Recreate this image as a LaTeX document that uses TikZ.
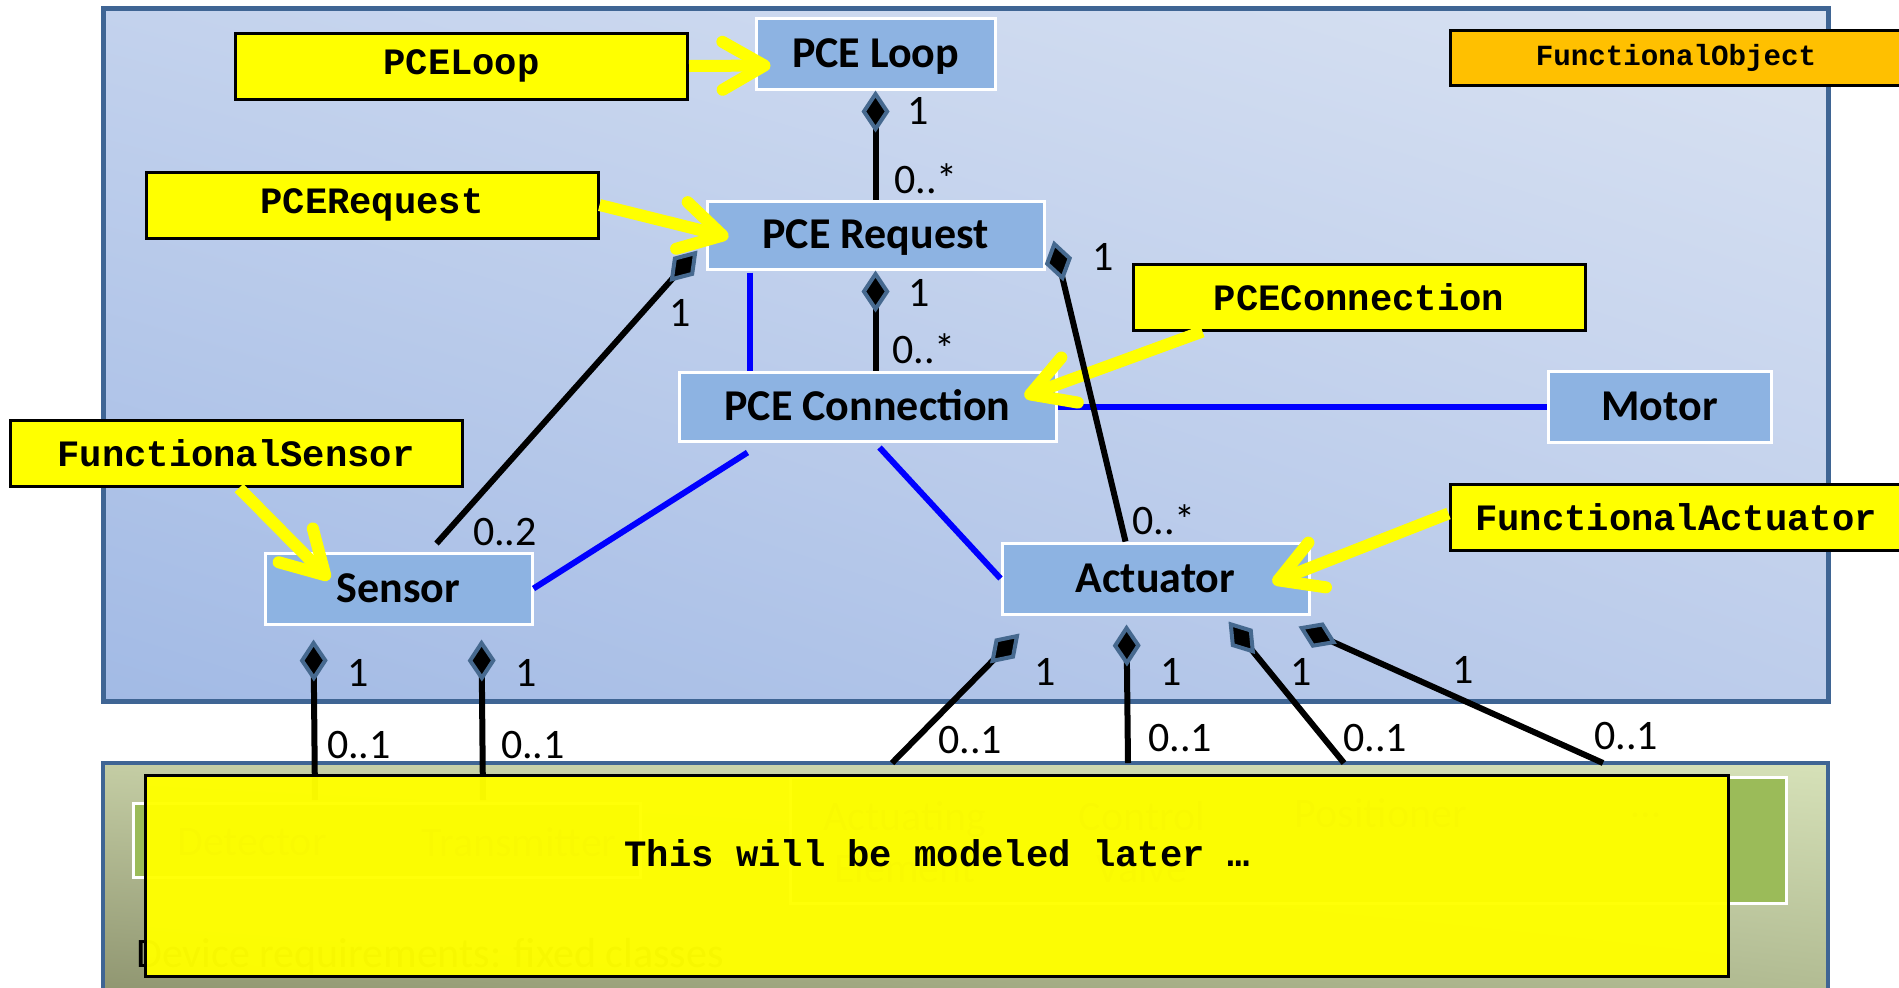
\documentclass[tikz,border=0pt]{standalone}
\usepackage{fontspec}
\setmainfont{Carlito}
\newfontfamily\monofont{Liberation Mono}
\usetikzlibrary{arrows.meta,calc,shadings}

\definecolor{panelborder}{HTML}{3F6594}
\definecolor{panelUL}{HTML}{C3D2ED}
\definecolor{panelUR}{HTML}{D9E2F2}
\definecolor{panelLL}{HTML}{A2BAE5}
\definecolor{panelLR}{HTML}{BDCDEB}
\definecolor{devUL}{HTML}{C4CDA4}
\definecolor{devUR}{HTML}{D6E1B8}
\definecolor{devLL}{HTML}{8E946F}
\definecolor{devLR}{HTML}{B0BA91}
\definecolor{clsblue}{HTML}{8DB3E2}
\definecolor{noteyellow}{HTML}{FFFF00}
\definecolor{noteorange}{HTML}{FFC000}
\definecolor{dmdblue}{HTML}{46698F}
\definecolor{linkblue}{HTML}{0000FF}
\definecolor{devgreen}{HTML}{9BBB59}

\tikzset{
  cls/.style={draw=white, line width=1.5pt, fill=clsblue, inner sep=0pt,
    text height=13.5pt, text depth=0pt,
    font=\bfseries\fontsize{22}{26}\selectfont},
  note/.style={draw=black, line width=1.5pt, fill=noteyellow, inner sep=0pt,
    minimum width=226pt, minimum height=33pt,
    font=\monofont\bfseries\fontsize{18.6}{22}\selectfont},
  mult/.style={inner sep=0pt, font=\fontsize{21}{24}\selectfont},
  devbox/.style={draw=white, line width=1.5pt, fill=devgreen},
  devtext/.style={inner sep=0pt, align=center, text=black!70,
    font=\fontsize{21}{26}\selectfont},
  comp/.style={line width=3pt, draw=black,
    -{Diamond[length=21pt,width=14pt,fill=black,color=dmdblue,line width=2pt]}},
  assoc/.style={line width=3pt, draw=linkblue},
  pointer/.style={line width=6pt, draw=noteyellow,
    -{Straight Barb[length=21pt,width=24pt,round]}},
}

\begin{document}
\begin{tikzpicture}[x=0.5pt,y=-0.5pt]
\useasboundingbox (0,0) rectangle (1899,987);
\fill[white] (0,0) rectangle (1899,987);

% ---------- functional package ----------
\shade[upper left=panelUL, upper right=panelUR, lower left=panelLL, lower right=panelLR]
  (103,8) rectangle (1828,701);
\draw[panelborder, line width=2.5pt] (103,8) rectangle (1828,701);

% ---------- device package ----------
\shade[upper left=devUL, upper right=devUR, lower left=devLL, lower right=devLR]
  (103,763) rectangle (1828,1000);
\draw[panelborder, line width=2pt] (103,1000) -- (103,763) -- (1828,763) -- (1828,1000);

\draw[devbox] (133,803) rectangle (640,877);
\draw[devbox] (790,777) rectangle (1786,903);
\node[devtext] (det) at (252,842) {Detector};
\node[devtext] (trm) at (519,842) {Transmitter};
\node[devtext] (actel) at (905,842) {Actuating\\Element};
\node[devtext] (valve) at (1142,842) {Control\\Valve};
\node[devtext] (pos) at (1381,813) {Positioner};
\node[devtext] (more) at (1646,815) {\dots};
\node[anchor=base west, inner sep=0pt, font=\fontsize{21}{26}\selectfont]
  (devreq) at (136,967) {Device requirements: fixed classes};

% free ends of the device associations
\coordinate (detTop) at (315,800);
\coordinate (trmTop) at (483,800);
\coordinate (aeTop)  at (892,763);
\coordinate (cvTop)  at (1128,763);
\coordinate (posTop) at (1344,763);
\coordinate (etcTop) at (1603,763);

% ---------- classes ----------
\node[cls, minimum width=119.5pt, minimum height=35.5pt] (loop)   at (875.5,53.5)  {PCE Loop};
\node[cls, minimum width=168.5pt, minimum height=34pt]   (req)    at (875.5,235)   {PCE Request};
\node[cls, minimum width=188.5pt, minimum height=34.5pt] (conn)   at (867.5,406.5) {PCE Connection};
\node[cls, minimum width=111.5pt, minimum height=35.5pt] (motor)  at (1659.5,406.5){Motor};
\node[cls, minimum width=133.5pt, minimum height=35.5pt] (sensor) at (398.5,588.5) {Sensor};
\node[cls, minimum width=153.5pt, minimum height=35.5pt] (act)    at (1155.5,578.5){Actuator};

% sensor composition lines (their lower ends lie under the cover note)
\draw[comp] (detTop) -- ($(sensor.south west)+(50,14)$);
\draw[comp] (trmTop) -- ($(sensor.south west)+(218,14)$);

% ---------- cover note over the device package ----------
\node[draw=black, line width=1.5pt, fill=noteyellow, fill opacity=0.97,
  minimum width=791.5pt, minimum height=100.5pt] (cover) at (936.5,875.5) {};
\node[inner sep=0pt, font=\monofont\bfseries\fontsize{18.6}{22}\selectfont]
  (coverText) at (937,853) {This will be modeled later …};

% ---------- stereotype notes ----------
\node[note] (nLoop) at (461.5,66)   {PCELoop};
\node[note] (nReq)  at (372,205)    {PCERequest};
\node[note] (nConn) at (1359,297)   {PCEConnection};
\node[note] (nSens) at (236,453.5)  {FunctionalSensor};
\node[note] (nAct)  at (1676,517.5) {FunctionalActuator};
\node[note, fill=noteorange, minimum height=27.5pt,
  font=\monofont\bfseries\fontsize{14.6}{18}\selectfont]
  (nObj) at (1676,57.5) {FunctionalObject};

% ---------- plain associations ----------
\draw[assoc] ($(req.south west)+(44,2)$) -- ($(conn.north west)+(72,0)$);
\draw[assoc] (conn.east) -- (motor.west);
\draw[assoc] ($(conn.south west)+(70,10)$) -- (sensor.east);
\draw[assoc] ($(conn.south)+(12,5)$) -- (act.west);

% ---------- note pointers ----------
\draw[pointer] (nLoop.east) -- ($(loop.west)+(16,12)$);
\draw[pointer] (nReq.east) -- ($(req.west)+(23,2)$);
\draw[pointer] ($(nConn.south west)+(71,0)$) -- ($(conn.east)+(-33,-10)$);
\draw[pointer] ($(nSens.south)+(3,0)$) -- ($(sensor.west)+(66,-9)$);
\draw[pointer] ($(nAct.west)+(0,-4)$) -- ($(act.east)+(-38,4)$);

% ---------- compositions ----------
\draw[comp] (req.north) -- (loop.south);
\draw[comp] (req.south |- conn.north) -- (req.south);
\draw[comp] ($(sensor.north west)+(173,-8)$) -- ($(req.south west)+(-8,-20)$);
\draw[comp] ($(act.north west)+(125,0)$) -- ($(req.south east)+(8,-30)$);
\draw[comp] (aeTop)  -- ($(act.south west)+(19,18)$);
\draw[comp] (cvTop)  -- ($(act.south west)+(126,9)$);
\draw[comp] (posTop) -- ($(act.south west)+(228,6)$);
\draw[comp] (etcTop) -- ($(act.south west)+(298,11)$);

% ---------- multiplicities ----------
\node[mult] (mLoop1)  at (918,111)  {1};
\node[mult] (mLoopN)  at (926,179)  {0..*};
\node[mult] (mReq1)   at (919,293)  {1};
\node[mult] (mReqN)   at (924,349)  {0..*};
\node[mult] (mSReq1)  at (680,313)  {1};
\node[mult] (mAReq1)  at (1103,257) {1};
\node[mult] (mSReqN)  at (505,532)  {0..2};
\node[mult] (mAReqN)  at (1164,520) {0..*};
\node[mult] (mDet1)   at (358,673)  {1};
\node[mult] (mTrm1)   at (526,673)  {1};
\node[mult] (mDetN)   at (359,745)  {0..1};
\node[mult] (mTrmN)   at (533,745)  {0..1};
\node[mult] (mAe1)    at (1045,672) {1};
\node[mult] (mCv1)    at (1171,672) {1};
\node[mult] (mPos1)   at (1301,672) {1};
\node[mult] (mEtc1)   at (1463,670) {1};
\node[mult] (mAeN)    at (970,740)  {0..1};
\node[mult] (mCvN)    at (1180,738) {0..1};
\node[mult] (mPosN)   at (1375,738) {0..1};
\node[mult] (mEtcN)   at (1626,736) {0..1};
\end{tikzpicture}
\end{document}
